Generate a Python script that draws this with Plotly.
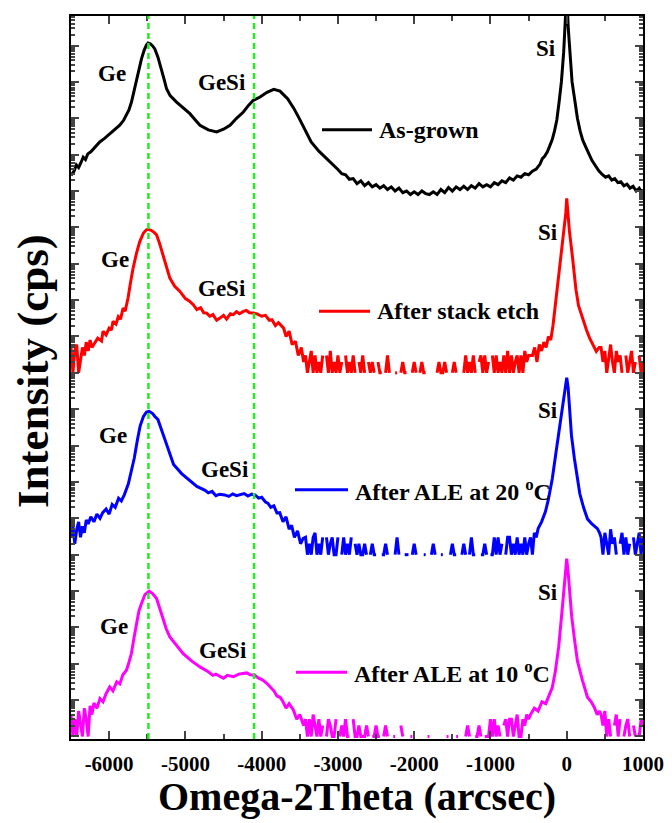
import plotly.graph_objects as go

# ----------------------------------------------------------------- data
STEP = 25  # arcsec step of the listed noisy count segments

# As-grown (black)
black_x = [-6500, -6460, -6430, -6400, -6370, -6340, -6310, -6280, -6240, -6200,
           -6160, -6123, -6060, -5992, -5930, -5861, -5810, -5773, -5740, -5707,
           -5675, -5641, -5610, -5576, -5540, -5510, -5489, -5460, -5430, -5401,
           -5360, -5313, -5280, -5247, -5200, -5116, -5030, -4941, -4870, -4809,
           -4700, -4590, -4500, -4415, -4330, -4240, -4170, -4109, -4021, -3930,
           -3841, -3760, -3660, -3580, -3506, -3430, -3351, -3250, -3145, -3050]
black_cps = [2.7, 3.5, 5.2, 4.4, 6.0, 8.5, 7.3, 10.5, 12, 15,
             18.5, 22.4, 28, 37.8, 48, 64.4, 88, 121, 170, 280,
             560, 1220, 2300, 4300, 7500, 10500, 11800, 11200, 9800, 8100,
             4800, 2290, 1200, 649, 420, 280, 200, 134, 90, 64.4,
             48, 42.2, 50, 64.4, 100, 149, 230, 312, 385, 520,
             625, 560, 345, 190, 97.7, 45, 22.4, 12.5, 7.8, 4.8]
black_floor_start = -3000
black_floor_step = 50
black_floor_cps = [3.9, 3.0, 2.8, 2.1, 2.2, 1.6, 1.9, 1.4, 1.7, 1.3,
                   1.5, 1.2, 1.4, 1.1, 1.3, 1.0, 1.2, 0.9, 1.0, 0.8,
                   0.95, 0.8, 1.0, 0.85, 0.8, 0.95, 0.8, 1.1, 0.9, 1.25,
                   1.0, 1.3, 1.1, 1.35, 1.1, 1.4, 1.2, 1.6, 1.3, 1.5,
                   1.3, 1.7, 1.5, 1.9, 1.7, 2.3, 2.0, 2.6, 2.4, 3.0,
                   2.8, 3.5]
black_si_x = [-400, -350, -320, -290, -254, -220, -190, -160, -130, -100,
              -70, -40, -20, 0, 20, 40, 70, 109, 140, 175,
              210, 240, 272, 300, 330, 370, 420, 469, 510, 550,
              590, 630, 670, 710, 750, 790, 830, 870, 910, 950,
              980, 1000]
black_si_cps = [4.0, 5.5, 7.8, 9, 12, 18, 26, 45, 90, 280,
                1000, 6580, 30000, 300000, 30000, 6580, 1000, 280, 100, 45,
                25, 18, 12, 9.5, 7, 5, 3.6, 2.8, 2.4, 2.6,
                2.0, 2.2, 1.7, 1.8, 1.4, 1.55, 1.2, 1.35, 1.0, 1.2,
                0.9, 1.1]

# After stack etch (red)
red_left_start = -6500
red_left_counts = [5, 1, 4, 6, 1, 2, 5, 3, 7, 4, 8, 5]
red_x = [-6200, -6150, -6100, -6080, -6040, -6000, -5970, -5949, -5910, -5880,
         -5850, -5817, -5790, -5752, -5720, -5686, -5640, -5598, -5550, -5510,
         -5489, -5450, -5410, -5378, -5340, -5292, -5250, -5204, -5140, -5072,
         -5000, -4950, -4897, -4850, -4800, -4760, -4721, -4680, -4640, -4590,
         -4547, -4500, -4460, -4410, -4372, -4330, -4290, -4240, -4200, -4160,
         -4109, -4060, -4000, -3950, -3900, -3866, -3820, -3780, -3712, -3680,
         -3640, -3600, -3557, -3520, -3480, -3450]
red_cps = [6, 9, 7.5, 13.9, 11, 17, 15, 26, 22, 35,
           30, 60, 50, 114, 300, 755, 2000, 4060, 7000, 8600,
           8850, 8300, 7300, 6210, 3700, 1760, 800, 402, 240, 173,
           110, 95, 75, 55, 62, 45, 44, 36, 40, 28,
           32, 38, 30, 42, 40, 48, 42, 49, 52, 45,
           44, 42, 36, 38, 28, 29, 20, 24, 17, 10,
           14, 6, 7.4, 3, 5, 2]
red_floor_start = -3425
red_floor_counts = [3, 1, 2, 4, 1, 3, 1, 2, 1, 3, 0, 3, 1, 4, 1, 2, 1, 3, 1, 2,
                    0, 3, 1, 2, 1, 3, 1, 0, 2, 1, 3, 1, 0, 2,
                    1, 2, 1, 0, 2, 1, 1, 0, 1, 3, 1, 0, 0, 1, 1, 0, 1, 2, 1, 1,
                    0, 0, 1, 2, 1, 0,
                    1, 2, 1, 1, 0, 0, 0, 0, 0, 1, 2, 1, 1, 2, 1, 0, 0, 1, 2, 1,
                    0, 0, 0,
                    1, 3, 1, 2, 1, 3, 1, 0, 2, 3, 1, 3, 1, 2, 0, 3, 1, 3, 1, 2,
                    1, 3, 1, 4, 1, 3, 1, 2, 3, 1, 3, 1, 4, 2, 3, 3]
red_si_x = [-450, -420, -390, -360, -330, -300, -270, -240, -210, -180,
            -155, -120, -77, -35, -12, 0, 12, 35, 77, 120,
            155, 200, 259, 300, 340, 388, 425]
red_si_cps = [3, 5, 2, 6, 4, 7, 5, 10, 8, 20,
              60, 200, 1420, 8000, 25000, 62700, 25000, 8000, 1420, 200,
              70, 35, 15, 9, 6, 3.9, 5]
red_right_start = 450
red_right_counts = [5, 2, 4, 1, 3, 6, 2, 1, 4, 2, 3, 1, 0, 3, 1, 2, 4, 1, 2, 0, 3, 1, 2]

# After ALE at 20 oC (blue)
blue_left_start = -6500
blue_left_counts = [3, 6, 2, 5, 8, 3, 6, 4, 9]
blue_x = [-6275, -6240, -6200, -6160, -6120, -6084, -6040, -6000, -5960, -5920,
          -5876, -5840, -5800, -5748, -5710, -5670, -5630, -5593, -5550, -5510,
          -5474, -5430, -5400, -5361, -5310, -5258, -5210, -5155, -5050, -4949,
          -4850, -4742, -4700, -4650, -4600, -4550, -4485, -4430, -4380, -4330,
          -4279, -4230, -4180, -4130, -4088, -4040, -4000, -3950, -3919, -3880,
          -3840, -3800, -3763, -3720, -3680, -3640, -3608, -3570, -3530, -3490,
          -3456]
blue_cps = [7, 11, 8, 13, 10, 14.3, 18, 13, 24, 20,
            35.8, 30, 45, 89, 200, 455, 1400, 3500, 6300, 8300,
            8730, 7600, 6300, 5250, 2600, 1260, 600, 304, 170, 109,
            75, 59, 50, 55, 42, 46, 44, 40, 47, 42,
            44, 48, 41, 46, 44, 36, 38, 28, 26, 20,
            22, 14, 14.3, 8, 11, 5, 6.4, 3, 4.5, 2,
            2.8]
blue_floor_start = -3425
blue_floor_counts = [3, 1, 2, 1, 3, 4, 1, 2, 1, 3, 0, 3, 1, 2, 3, 1, 1, 3, 0, 1,
                     3, 1, 2, 1, 3, 0, 2, 1, 2, 1,
                     1, 2, 1, 0, 1, 2, 1, 1, 0, 0, 1, 1, 2, 1, 0, 0, 0, 1, 3, 1,
                     0, 0, 1, 1, 1, 0, 1, 2, 1, 0, 0, 0, 1, 1, 0, 0, 1, 2, 1, 0,
                     0, 1, 1, 0, 0, 0, 1, 2, 1, 1, 0, 0, 1, 2, 1, 0, 1, 3, 1, 1,
                     0, 0, 1, 1, 2, 1, 0, 1,
                     1, 3, 1, 3, 1, 2, 0, 1, 3, 3, 1, 2, 1, 3, 1, 2, 1, 3, 1, 2,
                     3, 1, 4, 3]
blue_si_x = [-375, -330, -280, -242, -190, -139, -100, -45, -18, 0,
             18, 40, 62, 100, 130, 171, 220, 273, 330, 402, 430]
blue_si_cps = [5.2, 8, 15, 32, 120, 687, 2500, 14500, 40000, 73800,
               40000, 8000, 1900, 450, 150, 48, 20, 9.5, 7, 5.2, 4]
blue_right_start = 450
blue_right_counts = [3, 1, 4, 2, 1, 5, 2, 3, 1, 0, 2, 4, 1, 3, 1, 2, 0, 3, 1, 2, 4, 1, 3]

# After ALE at 10 oC (magenta)
mag_left_start = -6500
mag_left_counts = [4, 1, 3, 1, 5, 2, 1, 6, 3, 1, 7, 4]
mag_x = [-6200, -6160, -6120, -6080, -6040, -5992, -5950, -5900, -5860, -5820,
         -5773, -5740, -5707, -5675, -5641, -5610, -5576, -5530, -5476, -5430,
         -5378, -5330, -5292, -5250, -5204, -5120, -5029, -4920, -4809, -4700,
         -4640, -4600, -4547, -4500, -4450, -4400, -4372, -4300, -4250, -4196,
         -4150, -4087, -4040, -3990, -3933, -3880, -3840, -3800, -3758, -3720,
         -3680, -3640, -3583, -3540, -3500, -3450]
mag_cps = [8.3, 6, 11, 9, 15, 23, 18, 32, 28, 50,
           66, 110, 194, 500, 1290, 2800, 4560, 8000, 9900, 8500,
           6250, 3000, 1550, 900, 543, 320, 190, 120, 82, 60,
           48, 52, 44, 40, 48, 44, 44, 52, 54, 56,
           50, 48, 40, 36, 29, 22, 18, 13, 12, 9,
           6, 8, 5.3, 3, 4, 2]
mag_floor_start = -3425
mag_floor_counts = [3, 1, 3, 1, 4, 2, 1, 3, 1, 2, 0, 1, 3, 2, 1, 1, 3, 0, 1, 2,
                    1, 3, 1, 1, 0, 3, 1, 1, 2, 1,
                    1, 1, 2, 1, 0, 1, 1, 2, 1, 1, 0, 1, 2, 1, 0, 0, 1, 1, 0, 0,
                    2, 1, 0, 0, 0, 1, 1, 0, 0, 0, 1, 0, 0, 0, 1, 1, 0, 0, 0, 0,
                    1, 0, 0, 0, 1, 1, 0, 0, 0, 1, 1, 0, 0, 0, 1, 2, 1, 0, 0, 1,
                    1, 2, 1, 0, 1, 1,
                    1, 3, 1, 3, 1, 2, 1, 0, 2, 3, 1, 3, 3, 1, 2, 4, 1, 1, 3, 2,
                    4, 3]
mag_si_x = [-475, -425, -375, -325, -275, -230, -190, -150, -105, -55,
            -20, 0, 20, 40, 65, 100, 140, 206, 272, 320,
            359, 400, 430]
mag_si_cps = [4, 6, 5, 9, 8, 14, 22, 60, 300, 4000,
              30000, 78000, 30000, 8000, 2000, 500, 120, 35, 12, 9,
              6.5, 4, 5]
mag_right_start = 450
mag_right_counts = [4, 2, 5, 1, 3, 1, 0, 2, 4, 1, 3, 0, 1, 2, 3, 1, 0, 2, 1, 0, 1, 3, 2]

series_names = ["As-grown", "After stack etch", "After ALE at 20 <sup>o</sup>C",
                "After ALE at 10 <sup>o</sup>C"]
series_colors = ["#000000", "#ff0000", "#0000ff", "#ff00ff"]
series_offsets = [1e15, 1e10, 1e5, 1]
x_tick_vals = [-6000, -5000, -4000, -3000, -2000, -1000, 0, 1000]
x_tick_text = ["-6000", "-5000", "-4000", "-3000", "-2000", "-1000", "0", "1000"]
peak_lines_x = [-5485, -4100]


# ----------------------------------------------------------------- helpers
def grid(start, step, vals):
    return [start + i * step for i in range(len(vals))], list(vals)


def assemble(parts, offset):
    X, Y = [], []
    for xs, ys in parts:
        for x, y in zip(xs, ys):
            X.append(x)
            Y.append(y * offset if y > 0 else None)
    return X, Y


curves = [
    [(black_x, black_cps), grid(black_floor_start, black_floor_step, black_floor_cps),
     (black_si_x, black_si_cps)],
    [grid(red_left_start, STEP, red_left_counts), (red_x, red_cps),
     grid(red_floor_start, STEP, red_floor_counts), (red_si_x, red_si_cps),
     grid(red_right_start, STEP, red_right_counts)],
    [grid(blue_left_start, STEP, blue_left_counts), (blue_x, blue_cps),
     grid(blue_floor_start, STEP, blue_floor_counts), (blue_si_x, blue_si_cps),
     grid(blue_right_start, STEP, blue_right_counts)],
    [grid(mag_left_start, STEP, mag_left_counts), (mag_x, mag_cps),
     grid(mag_floor_start, STEP, mag_floor_counts), (mag_si_x, mag_si_cps),
     grid(mag_right_start, STEP, mag_right_counts)],
]

fig = go.Figure()
for parts, name, color, off in zip(curves, series_names, series_colors, series_offsets):
    X, Y = assemble(parts, off)
    fig.add_trace(go.Scatter(x=X, y=Y, mode="lines", name=name,
                             line=dict(color=color, width=3), connectgaps=False))

# ----------------------------------------------------------------- layout
# plot area in page pixels (the page body adds an 8 px margin)
PAGE_OFF = 8
L, R, T, B = 71, 643, 14, 739
FIG_W, FIG_H = 672 - PAGE_OFF, 823 - PAGE_OFF


def px(xp):
    return (xp - L) / (R - L)


def py(yp):
    return (B - yp) / (B - T)


FONT = "Liberation Serif"
annotations = []
labels = [
    ("Ge", 112, 72), ("GeSi", 222, 81), ("Si", 546, 47),
    ("Ge", 115, 258), ("GeSi", 222, 287), ("Si", 548, 231),
    ("Ge", 113, 435), ("GeSi", 225, 469), ("Si", 548, 410),
    ("Ge", 114, 626), ("GeSi", 223, 650), ("Si", 548, 592),
]
for txt, xp, yp in labels:
    annotations.append(dict(text=txt, x=px(xp), y=py(yp), xref="paper", yref="paper",
                            showarrow=False, xanchor="center", yanchor="middle",
                            font=dict(family=FONT, size=23, color="black", weight="bold")))

legend_pos = [(322, 372, 128), (319, 370, 310), (295, 348, 489), (296, 347, 672)]
shapes = []
for (x0, x1, yp), name, color in zip(legend_pos, series_names, series_colors):
    shapes.append(dict(type="line", xref="paper", yref="paper", x0=px(x0), x1=px(x1),
                       y0=py(yp), y1=py(yp), line=dict(color=color, width=3)))
    annotations.append(dict(text=name, x=px(x1 + 5), y=py(yp), xref="paper", yref="paper",
                            showarrow=False, xanchor="left", yanchor="middle",
                            font=dict(family=FONT, size=24, color="black", weight="bold")))

for xv in peak_lines_x:
    shapes.append(dict(type="line", xref="x", yref="paper", x0=xv, x1=xv, y0=0, y1=1,
                       layer="above", line=dict(color="#22ee22", width=2.5, dash="6px,4px")))

annotations.append(dict(text="Omega-2Theta (arcsec)", x=0.5, y=py(797), xref="paper",
                        yref="paper", showarrow=False, xanchor="center", yanchor="middle",
                        font=dict(family=FONT, size=40, color="black", weight="bold")))
annotations.append(dict(text="Intensity (cps)", x=px(33), y=py(370), xref="paper",
                        yref="paper", showarrow=False, xanchor="center", yanchor="middle",
                        textangle=-90, borderpad=0,
                        font=dict(family=FONT, size=45, color="black", weight="bold")))

fig.update_layout(
    width=FIG_W, height=FIG_H,
    margin=dict(l=L - PAGE_OFF, r=FIG_W - (R - PAGE_OFF), t=T - PAGE_OFF,
                b=FIG_H - (B - PAGE_OFF)),
    plot_bgcolor="white", paper_bgcolor="white",
    showlegend=False,
    font=dict(family=FONT, color="black"),
    shapes=shapes, annotations=annotations,
    xaxis=dict(range=[-6500, 1000], tickmode="array", tickvals=x_tick_vals,
               ticktext=x_tick_text, ticks="inside", ticklen=8, tickwidth=2,
               showline=True, linewidth=2, linecolor="black", mirror="allticks",
               showgrid=False, zeroline=False, ticklabelstandoff=5,
               tickfont=dict(family=FONT, size=21, color="black", weight="bold"),
               minor=dict(ticks="inside", ticklen=5, tickwidth=2, showgrid=False,
                          tickvals=[-5500, -4500, -3500, -2500, -1500, -500, 500])),
    yaxis=dict(type="log", range=[-0.069, 19.813], dtick=1, ticks="inside",
               ticklen=8, tickwidth=2, showticklabels=False, showline=True,
               linewidth=2, linecolor="black", mirror="allticks", showgrid=False,
               zeroline=False,
               minor=dict(ticks="inside", ticklen=4, tickwidth=1.5, dtick="D1",
                          showgrid=False)),
)

fig.write_html("out.html")
